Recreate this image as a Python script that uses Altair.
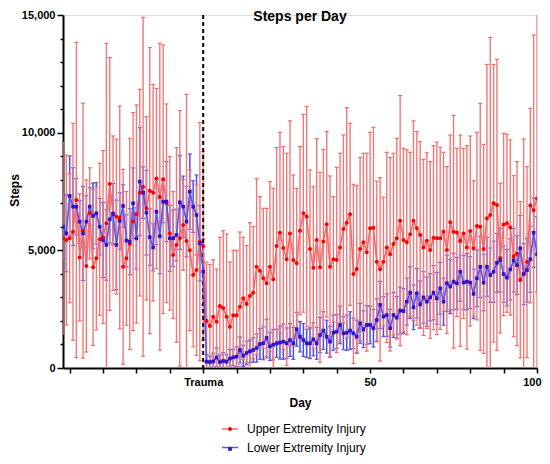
import altair as alt
import pandas as pd

FONT = "Liberation Sans, Arial, sans-serif"

days = list(range(-42, 101))
groups = ["Upper Extremity Injury", "Lower Extremity Injury"]
point_keys = ["Upper (points)", "Lower (points)"]

# Upper extremity injury: mean steps and top of error bar (mean + SD)
upper_mean = [
    5510, 5440, 5510, 5790, 7140, 4700, 5835, 4335, 6575, 4280,
    4660, 5470, 5560, 6150, 7820, 6575, 6430, 6400, 4300, 4660,
    5270, 6220, 6545, 7450, 7700, 6785, 7535, 7450, 8050, 7280,
    8020, 7000, 5720, 4800, 5230, 5510, 6075, 5400, 5000, 3950,
    4160, 5370, 5185,
    2010, 1785, 2180, 1970, 2635, 2550, 2180, 1755, 2240, 2240,
    2605, 2960, 2720, 3060, 3200, 4305, 4135, 3810, 3600, 4305,
    3770, 5185, 5750, 5100, 4620, 5720, 4590, 4450, 5835, 6575,
    6430, 5060, 4265, 5440, 4280, 5380, 6105, 4305, 4620, 4590,
    5125, 5905, 6175, 6530, 3995, 4210, 5060, 5340, 4920, 5935,
    5960, 4520, 4195, 4520, 5125, 4830, 5270, 5510, 6260, 5440,
    5340, 5680, 6260, 5935, 5650, 5125, 5410, 5015, 5540, 5510,
    5510, 5790, 5015, 6190, 5790, 5760, 5410, 5720, 5125, 5820,
    5085, 6030, 6000, 5060, 6360, 6500, 7000, 6930, 4670, 6100,
    6150, 5970, 4750, 4860, 3750, 4000, 4500, 6900, 6700, 7200,
]
upper_bar_top = [
    9575, 9050, 8245, 10400, 13840, 7400, 11250, 7990, 8510, 7600,
    7700, 8700, 9235, 13800, 13190, 9860, 9720, 11135, 8440, 7500,
    9760, 10850, 11180, 11840, 14900, 10680, 13615, 12050, 11880, 13800,
    13730, 11220, 8980, 7500, 9365, 10940, 8000, 11630, 8415, 7000,
    7780, 10430, 9195,
    4500, 4400, 4600, 4200, 5555, 5835, 5695, 4500, 5000, 5000,
    5780, 5555, 5200, 6175, 6005, 8045, 7280, 6785, 6785, 7920,
    7635, 9365, 10015, 9410, 9125, 10500, 8200, 7635, 9410, 10780,
    11110, 8415, 7705, 9745, 8315, 9290, 10045, 8160, 7280, 8525,
    9125, 9900, 11065, 10400, 7805, 7750, 8950, 9125, 9125, 10015,
    10230, 7935, 8090, 7255, 9165, 8940, 9125, 9760, 11575, 9335,
    9270, 9165, 10500, 10045, 9620, 8870, 9140, 8770, 9450, 9600,
    9380, 9165, 8555, 9900, 10735, 9335, 9900, 9335, 9450, 9860,
    7960, 10015, 11250, 9500, 12900, 14050, 12900, 13115, 7850, 9975,
    9930, 9690, 8175, 8770, 7070, 9730, 8555, 11035, 14150, 15500,
]

# Lower extremity injury: mean steps and SD
lower_mean = [
    6005, 5720, 7310, 6855, 6855, 6220, 5720, 6220, 6855, 6460,
    6575, 6005, 5440, 5230, 6320, 6545, 5230, 6250, 6885, 5410,
    5370, 7000, 5510, 7920, 7450, 6600, 5560, 5125, 6640, 5600,
    7070, 7070, 5510, 5510, 5650, 7040, 6855, 6220, 7495, 6855,
    6500, 5300, 4090,
    270, 255, 280, 450, 255, 300, 270, 400, 450, 480,
    765, 520, 640, 710, 765, 850, 1020, 1050, 1275, 920,
    990, 1050, 1080, 1120, 1050, 1190, 1050, 1645, 1330, 1190,
    1050, 1050, 1220, 1050, 1400, 1590, 1330, 1120, 1500, 1545,
    1830, 1475, 1500, 1590, 1475, 1330, 1900, 1645, 1830, 1830,
    1690, 2040, 2680, 2180, 2250, 1690, 2250, 2140, 2440, 2420,
    2820, 3200, 2580, 3170, 2700, 3000, 2820, 3000, 3200, 2960,
    3385, 2820, 3600, 3460, 3670, 3600, 4090, 3630, 3670, 3630,
    3150, 3810, 4300, 3630, 4300, 3950, 4090, 4470, 4580, 3990,
    3840, 4190, 4580, 4370, 5085, 3990, 4160, 4620, 5750, 4830,
]
lower_sd = [
    1375, 1630, 1700, 1655, 1200, 900, 2000, 1100, 800, 1400,
    1300, 1200, 1600, 1500, 1000, 1300, 1900, 1200, 900, 1100,
    1400, 1500, 1300, 2290, 1100, 1800, 1200, 1000, 1400, 1600,
    900, 1700, 1400, 1200, 1100, 2000, 1300, 1500, 1600, 1100,
    1700, 1600, 1400,
    300, 250, 350, 400, 300, 350, 300, 380, 350, 420,
    550, 450, 500, 480, 520, 600, 650, 700, 800, 600,
    650, 600, 700, 750, 650, 700, 680, 720, 650, 700,
    600, 650, 700, 680, 750, 800, 700, 650, 750, 720,
    800, 700, 750, 800, 650, 700, 850, 780, 820, 800,
    800, 900, 1000, 850, 900, 800, 950, 900, 1000, 950,
    1000, 1100, 950, 1050, 1000, 1100, 1050, 1000, 1150, 1100,
    1100, 1000, 1200, 1150, 1200, 1100, 1250, 1150, 1200, 1100,
    1050, 1200, 1300, 1200, 1250, 1150, 1300, 1250, 1350, 1200,
    1200, 1300, 1350, 1250, 1400, 1300, 1350, 1400, 1475, 1600,
]

x_ticks = list(range(-40, 101, 10))
y_ticks = list(range(0, 15001, 1000))

rows = []
for d, m, t in zip(days, upper_mean, upper_bar_top):
    sd = t - m
    rows.append({"day": d, "mean": m, "hi": m + sd, "lo": m - sd,
                 "group": groups[0], "pkey": point_keys[0]})
for d, m, s in zip(days, lower_mean, lower_sd):
    rows.append({"day": d, "mean": m, "hi": m + s, "lo": m - s,
                 "group": groups[1], "pkey": point_keys[1]})
df = pd.DataFrame(rows)

xscale = alt.Scale(domain=[-42, 100], nice=False, zero=False)
yscale = alt.Scale(domain=[0, 15000], nice=False, zero=False)

xaxis = alt.Axis(
    values=x_ticks,
    labelExpr="datum.value == 0 ? 'Trauma' : (datum.value % 50 == 0 ? format(datum.value, 'd') : '')",
    title="Day", grid=False, labelFlush=True, labelFlushOffset=4, labelOverlap=False,
    tickSize=5, tickWidth=1.5, tickColor="black",
    domainWidth=2, domainColor="black",
    labelFont=FONT, labelFontSize=11, labelFontWeight="bold", labelColor="black", labelPadding=3,
    titleFont=FONT, titleFontSize=12, titleFontWeight="bold", titleColor="black",
    titleY=38, titleBaseline="alphabetic",
)
yaxis = alt.Axis(
    values=y_ticks,
    labelExpr="datum.value % 5000 == 0 ? format(datum.value, ',') : ''",
    title="Steps", grid=False, labelOverlap=False,
    tickSize={"condition": {"test": "datum.value % 5000 == 0", "value": 6}, "value": 3},
    tickWidth=1.5, tickColor="black",
    domainWidth=2, domainColor="black",
    labelFont=FONT, labelFontSize=11, labelFontWeight="bold", labelColor="black", labelPadding=2,
    titleFont=FONT, titleFontSize=12, titleFontWeight="bold", titleColor="black",
    titleX=-45, titleY=175, titleAngle=270, titleBaseline="alphabetic", titleAlign="center",
)

X = alt.X("day:Q", scale=xscale, axis=xaxis)

def ybar(field):
    return alt.Y(field, type="quantitative", scale=yscale, axis=yaxis)

base = alt.Chart(df)

def error_layers(group, bar_color, cap_color, width):
    b = base.transform_filter(alt.datum.group == group)
    bars = b.mark_rule(color=bar_color, strokeWidth=width, clip=True).encode(
        x=X, y=ybar("lo"), y2="hi")
    cap_hi = b.mark_tick(color=cap_color, orient="horizontal", size=4, thickness=1.2,
                         opacity=1, clip=True).encode(x=X, y=ybar("hi"))
    cap_lo = b.mark_tick(color=cap_color, orient="horizontal", size=4, thickness=1.2,
                         opacity=1, clip=True).encode(x=X, y=ybar("lo"))
    return [bars, cap_hi, cap_lo]

blue_err = error_layers(groups[1], "#4A4AF5", "#6B50E0", 1.5)
red_err = error_layers(groups[0], "#F27878", "#F26A6A", 1.4)

legend_common = dict(
    orient="none", legendX=158, legendY=405, title=None, direction="vertical",
    labelFont=FONT, labelFontSize=12, labelColor="black", labelOffset=8,
    symbolSize=256,
)

lines = base.mark_line(strokeWidth=1.6, clip=True).encode(
    x=X, y=ybar("mean"),
    stroke=alt.Stroke("group:N", scale=alt.Scale(domain=groups, range=["#F36A6A", "#5257F2"]),
                      legend=alt.Legend(symbolStrokeWidth=1.5, zindex=1, rowPadding=3.5,
                                        **legend_common)),
)

circle_path = "M-0.25,0A0.25,0.25 0 1,0 0.25,0A0.25,0.25 0 1,0 -0.25,0Z"
square_path = "M-0.23,-0.23H0.23V0.23H-0.23Z"

pt_legend = alt.Legend(labelExpr="''", zindex=2, rowPadding=5, **legend_common)
points = base.mark_point(filled=True, size=256, opacity=1, strokeWidth=0, clip=True).encode(
    x=X, y=ybar("mean"),
    fill=alt.Fill("pkey:N", scale=alt.Scale(domain=point_keys, range=["#FF0000", "#3512C8"]),
                  legend=pt_legend),
    shape=alt.Shape("pkey:N", scale=alt.Scale(domain=point_keys, range=[circle_path, square_path]),
                    legend=pt_legend),
)

trauma = alt.Chart(pd.DataFrame({"day": [0]})).mark_rule(
    color="black", strokeDash=[4, 3], strokeWidth=2).encode(x=X)

chart = alt.layer(*blue_err, *red_err, trauma, lines, points).properties(
    width=474, height=353,
    title=alt.TitleParams("Steps per Day", font=FONT, fontSize=14, fontWeight="bold",
                          color="black", anchor="middle", frame="group",
                          baseline="alphabetic", offset=0, dy=26),
    autosize=alt.AutoSizeParams(type="none"),
    padding={"left": 55, "top": 7, "right": 5, "bottom": 88},
).configure_view(stroke="transparent").configure(background="white")

chart.save("out.html", embed_options={"renderer": "svg", "actions": False})
